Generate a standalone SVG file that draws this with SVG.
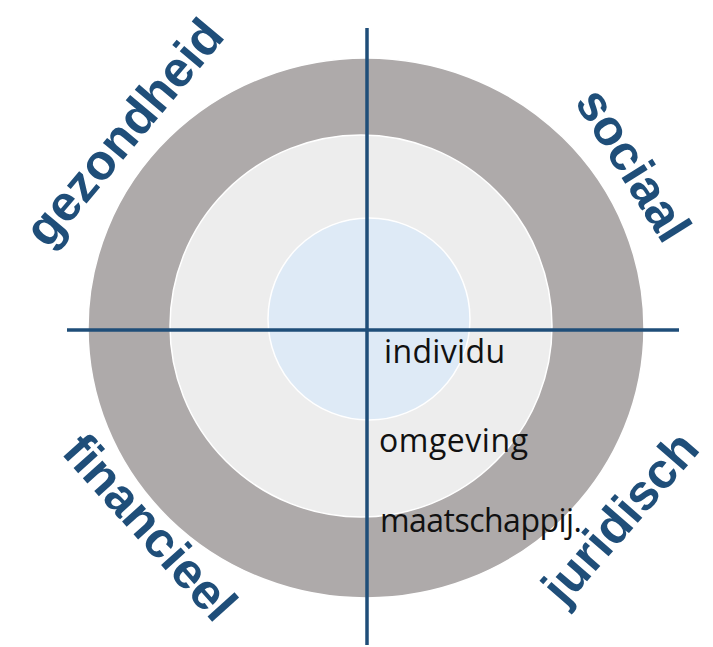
<svg xmlns="http://www.w3.org/2000/svg" width="713" height="647" viewBox="0 0 713 647">
<style>
.lbl{font-family:"Liberation Sans",Arial,sans-serif;font-weight:bold;font-size:50px;fill:#1f4e79;text-anchor:middle}
.ring{font-family:"Open Sans","Liberation Sans",sans-serif;font-size:32px;fill:#111}
.axis{stroke:#1f4e79;stroke-width:3.5;fill:none}
</style>
<rect width="713" height="647" fill="#ffffff"/>
<g id="maatschappij-ring"><ellipse cx="366" cy="328" rx="278" ry="270" fill="#aeaaaa" stroke="#ffffff" stroke-width="1.5"/></g>
<g id="omgeving-ring"><circle cx="361" cy="326" r="191" fill="#ededed" stroke="#ffffff" stroke-width="1.5"/></g>
<g id="individu-ring"><circle cx="369" cy="319" r="101" fill="#deeaf6" stroke="#ffffff" stroke-width="1.5"/></g>
<g id="connectors">
<line class="axis" x1="367" y1="28" x2="367" y2="645"/>
<line class="axis" x1="67" y1="330" x2="679" y2="330"/>
</g>
<g id="texts">
<text class="ring" x="384" y="363" textLength="121">individu</text>
<text class="ring" x="379" y="452" textLength="149">omgeving</text>
<text class="ring" x="380" y="532" textLength="202">maatschappij.</text>
</g>
<g id="gezondheid"><text class="lbl" transform="translate(127,135) rotate(-50)" y="13">gezondheid</text></g>
<g id="sociaal"><text class="lbl" transform="translate(630,167) rotate(58)" y="13">sociaal</text></g>
<g id="financieel"><text class="lbl" transform="translate(147,530) rotate(48)" y="13">financieel</text></g>
<g id="juridisch"><text class="lbl" transform="translate(623,520) rotate(-49)" y="13">juridisch</text></g>
</svg>
